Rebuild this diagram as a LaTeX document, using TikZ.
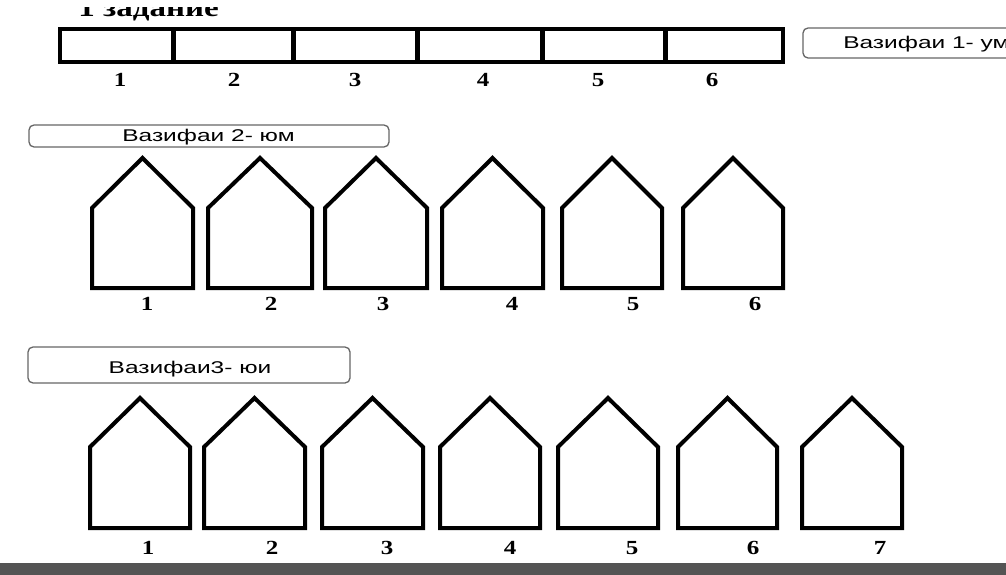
\documentclass[tikz,border=0pt]{standalone}
\usepackage{fontspec}
\setmainfont{Liberation Serif}
\setsansfont{Liberation Sans}
\newcommand\drawhouse[5]{\draw[houseline] (#1,#5) -- (#1,#4) -- ({(#1+#2)/2},#3) -- (#2,#4) -- (#2,#5) -- cycle;}
\begin{document}
\begin{tikzpicture}[x=1pt,y=-1pt,
  houseline/.style={line width=4pt, line join=miter},
  barline/.style={line width=4pt},
  divline/.style={line width=5pt},
  numlabel/.style={font=\fontsize{20}{20}\selectfont\bfseries, inner sep=0pt, xscale=1.25},
  tagbox/.style={draw=black!60, line width=1.3pt, rounded corners=5pt, fill=white, inner sep=0pt},
  tagtext/.style={font=\sffamily\fontsize{17}{17}\selectfont, inner sep=0pt, xscale=1.44}
]
\useasboundingbox (0,0) rectangle (1006,575);
\clip (0,0) rectangle (1006,575);
\fill[white] (0,0) rectangle (1006,575);

% heading, cut at the top
\begin{scope}
\clip (0,8) rectangle (1006,28);
\node[anchor=base west, inner sep=0pt, xscale=1.27, font=\fontsize{26}{26}\selectfont\bfseries] (heading) at (78,17) {1 задание};
\end{scope}

% top bar
\draw[barline] (60,29) rectangle (783,62);
\foreach \x in {173,293,417,542,665} \draw[divline] (\x,29) -- (\x,62);
\foreach \x/\n in {120/1,234/2,355/3,483/4,598/5,712/6}
  \node[numlabel] (t\n) at (\x,80) {\n};

% tag boxes
\draw[tagbox] (803,28) rectangle (1030,58);
\node[tagtext, anchor=base west] (tag1) at (843,49) {Вазифаи 1- ум};
\draw[tagbox] (29,125) rectangle (389,147);
\node[tagtext, anchor=base] (tag2) at (208.5,142) {Вазифаи 2- юм};
\draw[tagbox] (28,347) rectangle (350,383);
\node[tagtext, anchor=base] (tag3) at (190,373) {Вазифаи3- юи};

% houses row 1
\drawhouse{92}{193}{158}{208}{288}
\drawhouse{208}{312}{158}{208}{288}
\drawhouse{325}{427}{158}{208}{288}
\drawhouse{442}{543}{158}{208}{288}
\drawhouse{562}{662}{158}{208}{288}
\drawhouse{683}{783}{158}{208}{288}
\foreach \x/\n in {147/1,271/2,383/3,512/4,633/5,755/6}
  \node[numlabel] (a\n) at (\x,304) {\n};

% houses row 2
\drawhouse{90}{190}{398}{447}{528}
\drawhouse{204}{305}{398}{447}{528}
\drawhouse{322}{423}{398}{447}{528}
\drawhouse{440}{540}{398}{447}{528}
\drawhouse{558}{658}{398}{447}{528}
\drawhouse{678}{777}{398}{447}{528}
\drawhouse{802}{902}{398}{447}{528}
\foreach \x/\n in {148/1,272/2,387/3,510/4,632/5,753/6,880/7}
  \node[numlabel] (b\n) at (\x,548) {\n};

% bottom band
\fill[black!67] (0,563) rectangle (1006,575);
\end{tikzpicture}
\end{document}
